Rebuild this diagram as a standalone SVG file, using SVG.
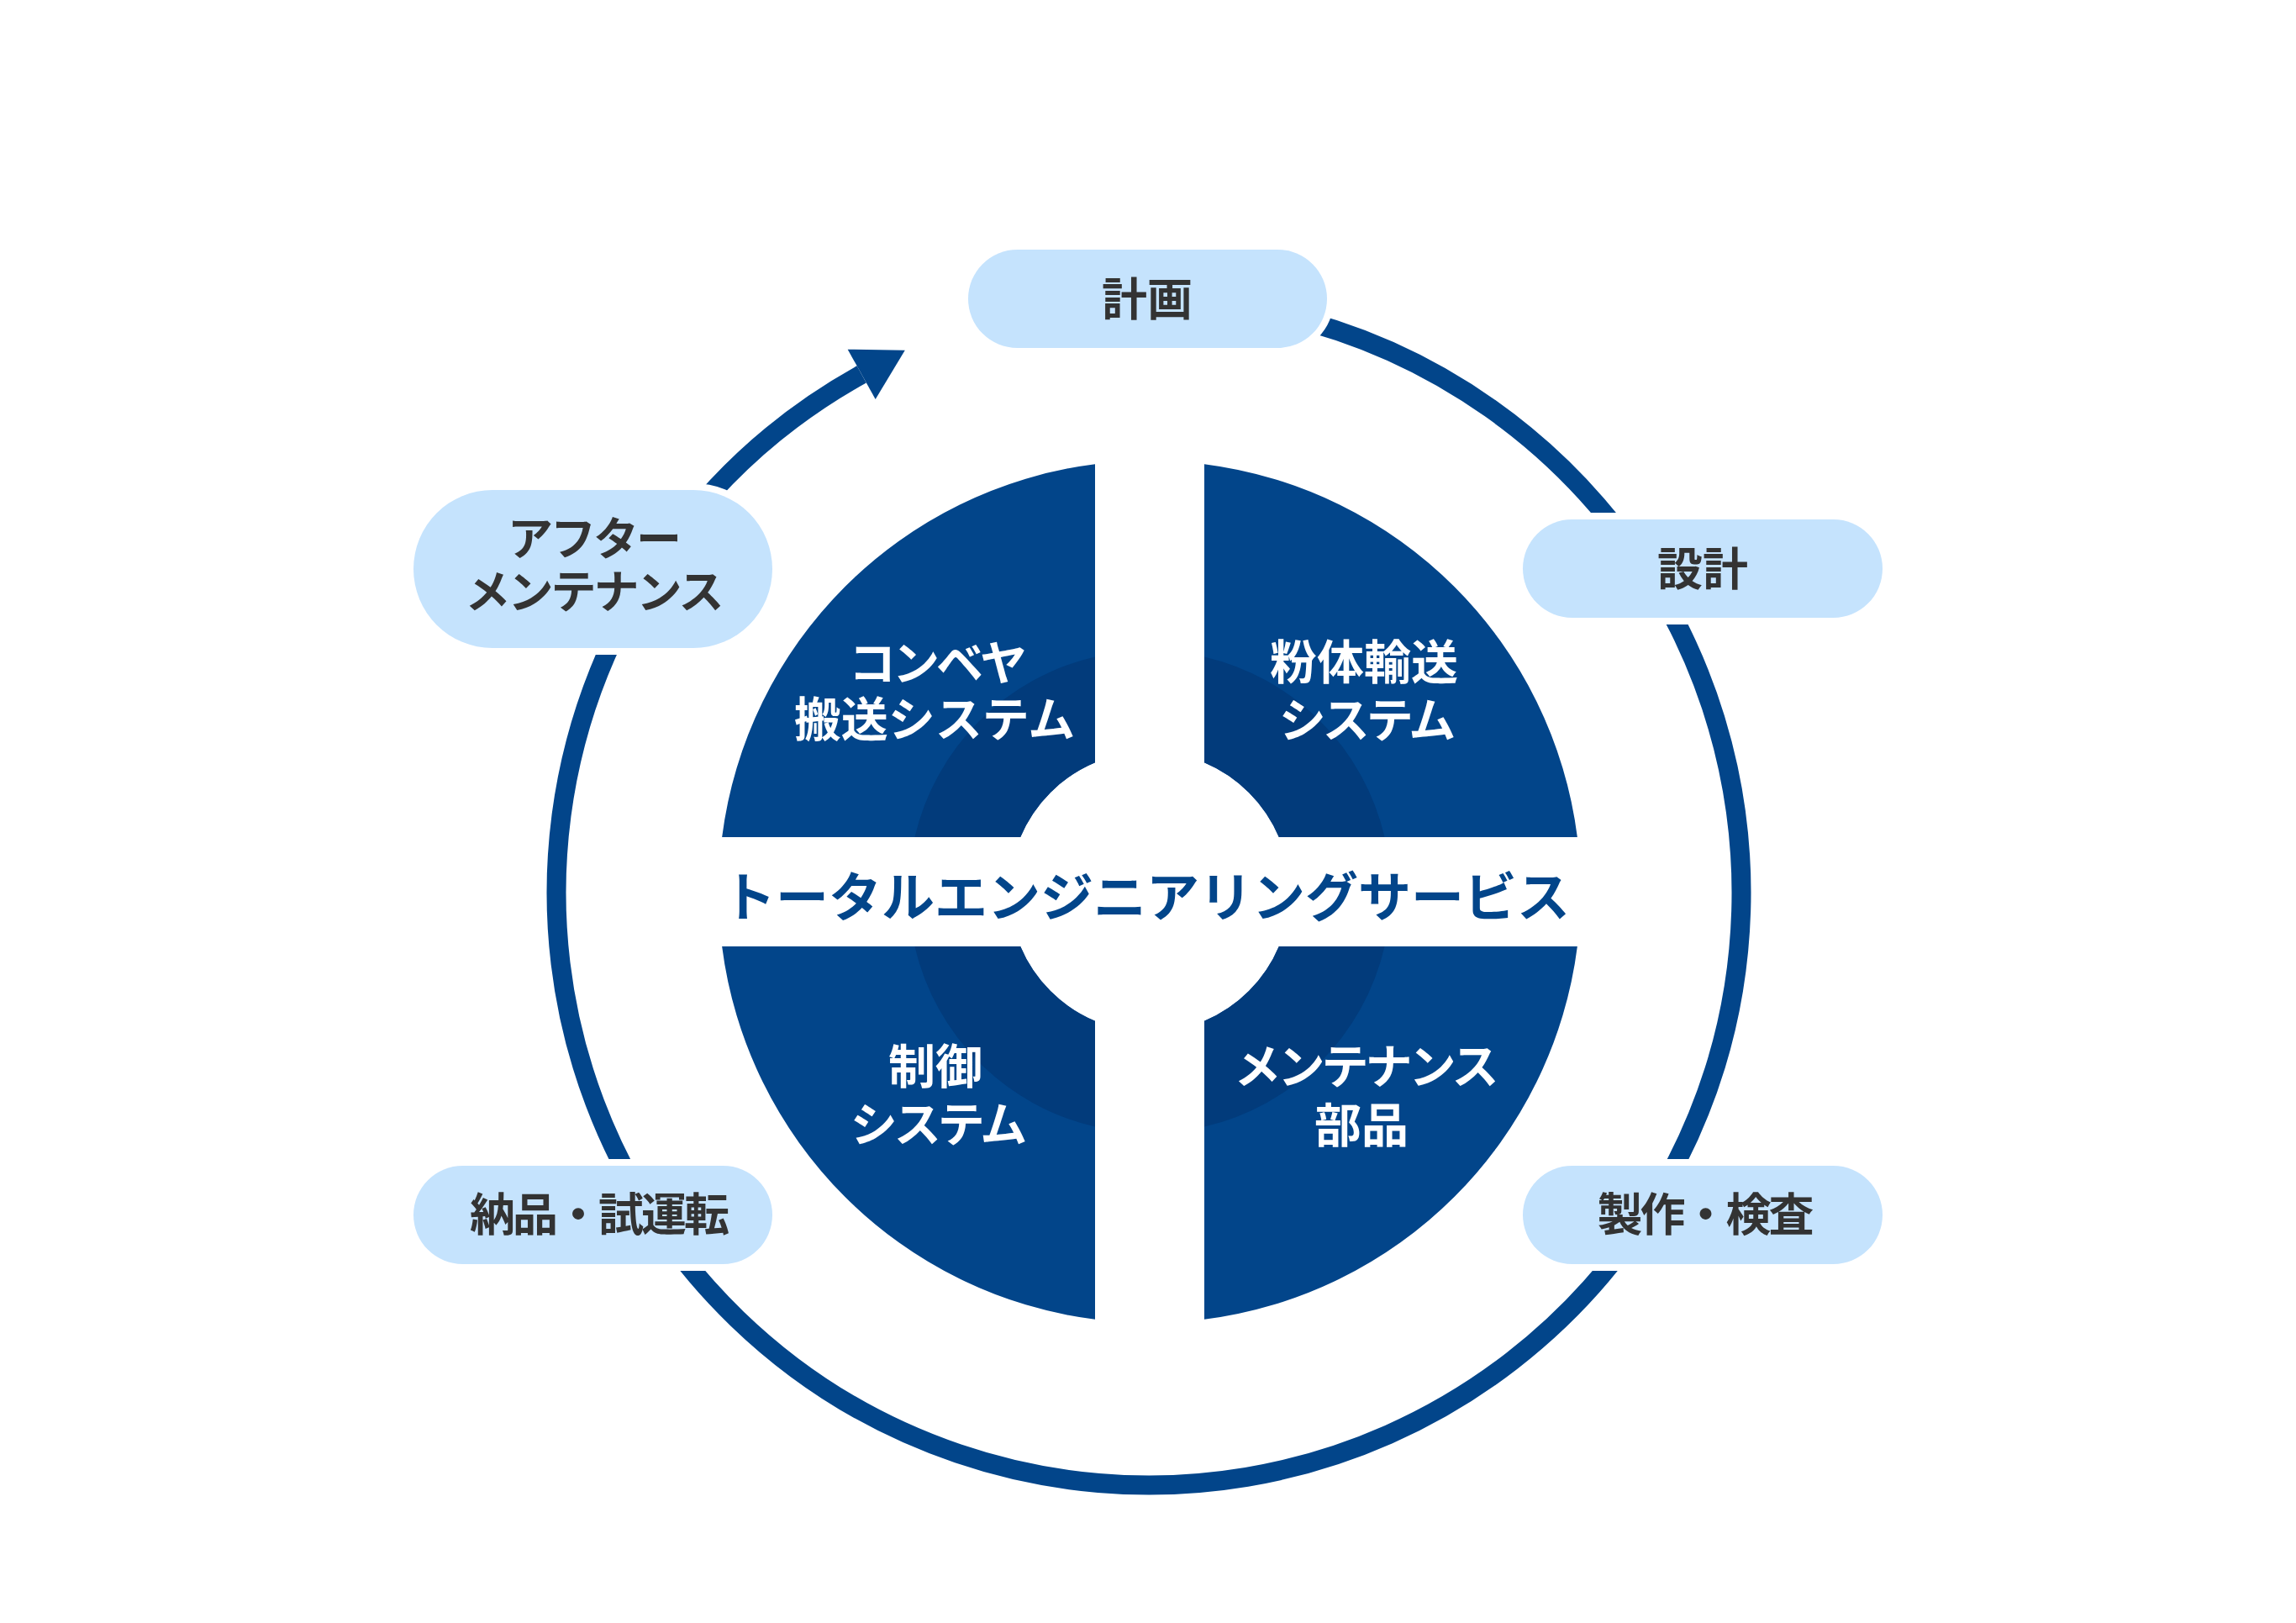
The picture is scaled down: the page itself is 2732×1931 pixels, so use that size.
<svg xmlns="http://www.w3.org/2000/svg" width="2732" height="1931" viewBox="0 0 2732 1931">
  <style>
    .ring { fill: none; stroke: #02458a; stroke-width: 23; }
    .head { fill: #02458a; }
    .pill { fill: #c5e3fd; stroke: #ffffff; stroke-width: 16; paint-order: stroke; }
    .ptxt { font-family: "Noto Sans CJK JP", "Noto Sans", sans-serif; font-weight: 700; font-size: 54px; fill: #333333; text-anchor: middle; }
    .quad { fill: #02458a; }
    .qdark { fill: #023b7b; }
    .qtxt { font-family: "Noto Sans CJK JP", "Noto Sans", sans-serif; font-weight: 700; font-size: 56px; fill: #ffffff; text-anchor: middle; }
    .kana { letter-spacing: -4px; }
    .pkana { letter-spacing: -3px; }
    .dot { letter-spacing: -3px; }
    .title { font-family: "Noto Sans CJK JP", "Noto Sans", sans-serif; font-weight: 700; font-size: 63px; fill: #02458a; text-anchor: middle; }
  </style>
  <rect width="2732" height="1931" fill="#ffffff"/>

  <g id="connectors">
    <path class="ring" d="M 1489.4 367.7 A 705 705 0 1 1 1025.2 445.4"/>
    <polygon class="head" points="1076.8,416.8 1008.7,415.7 1041.7,475.1"/>
  </g>

  <g id="q-conveyor">
    <path class="quad" d="M 1303 552.13 L 1303 907.17 A 167 167 0 0 0 1214.17 996 L 859.13 996 A 513 513 0 0 1 1303 552.13 Z"/>
    <path class="qdark" d="M 1303 781.46 L 1303 907.17 A 167 167 0 0 0 1214.17 996 L 1088.46 996 A 287 287 0 0 1 1303 781.46 Z"/>
    <text class="qtxt kana" x="1114" y="809">コンベヤ</text>
    <text class="qtxt" x="1112" y="876">搬送システム</text>
  </g>

  <g id="q-powder">
    <path class="quad" d="M 1433 552.13 A 513 513 0 0 1 1876.87 996 L 1521.83 996 A 167 167 0 0 0 1433 907.17 Z"/>
    <path class="qdark" d="M 1433 781.46 A 287 287 0 0 1 1647.54 996 L 1521.83 996 A 167 167 0 0 0 1433 907.17 Z"/>
    <text class="qtxt" x="1623" y="808">粉体輸送</text>
    <text class="qtxt kana" x="1625" y="877">システム</text>
  </g>

  <g id="q-control">
    <path class="quad" d="M 859.13 1126 L 1214.17 1126 A 167 167 0 0 0 1303 1214.83 L 1303 1569.87 A 513 513 0 0 1 859.13 1126 Z"/>
    <path class="qdark" d="M 1088.46 1126 L 1214.17 1126 A 167 167 0 0 0 1303 1214.83 L 1303 1340.54 A 287 287 0 0 1 1088.46 1126 Z"/>
    <text class="qtxt" x="1113" y="1289">制御</text>
    <text class="qtxt kana" x="1115" y="1358">システム</text>
  </g>

  <g id="q-parts">
    <path class="quad" d="M 1433 1214.83 A 167 167 0 0 0 1521.83 1126 L 1876.87 1126 A 513 513 0 0 1 1433 1569.87 Z"/>
    <path class="qdark" d="M 1433 1214.83 A 167 167 0 0 0 1521.83 1126 L 1647.54 1126 A 287 287 0 0 1 1433 1340.54 Z"/>
    <text class="qtxt kana" x="1624" y="1289">メンテナンス</text>
    <text class="qtxt" x="1620" y="1359">部品</text>
  </g>

  <g id="center-title">
    <text class="title" x="1364" y="1090">トータルエンジニアリングサービス</text>
  </g>

  <g id="n-plan">
    <rect class="pill" x="1152" y="297" width="427" height="117" rx="58.5"/>
    <text class="ptxt" x="1365" y="376">計画</text>
  </g>
  <g id="n-design">
    <rect class="pill" x="1812" y="618" width="428" height="117" rx="58.5"/>
    <text class="ptxt" x="2026" y="697">設計</text>
  </g>
  <g id="n-manufacture">
    <rect class="pill" x="1812" y="1387" width="428" height="117" rx="58.5"/>
    <text class="ptxt dot" x="2028" y="1465">製作・検査</text>
  </g>
  <g id="n-delivery">
    <rect class="pill" x="492" y="1387" width="427" height="117" rx="58.5"/>
    <text class="ptxt dot" x="712" y="1465">納品・試運転</text>
  </g>
  <g id="n-after">
    <rect class="pill" x="492" y="583" width="427" height="188" rx="94"/>
    <text class="ptxt pkana" x="706" y="661">アフター</text>
    <text class="ptxt pkana" x="706" y="724">メンテナンス</text>
  </g>
</svg>
